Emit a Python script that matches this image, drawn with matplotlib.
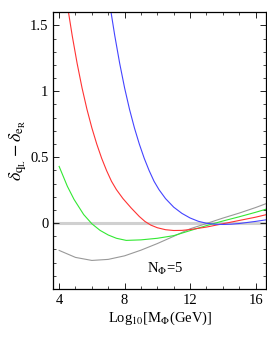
import matplotlib
matplotlib.use('Agg')
import matplotlib.pyplot as plt
from matplotlib.ticker import MultipleLocator

plt.rcParams.update({
    'font.family': 'serif',
    'font.serif': ['Liberation Serif', 'DejaVu Serif'],
    'mathtext.fontset': 'stix',
    'font.size': 9,
})

# curves: log10(M_Phi) vs delta_qL - delta_eR
grey_x = [4.0, 5.0, 6.0, 7.0, 8.0, 9.0, 10.0, 11.0, 12.0, 13.0, 14.0, 15.0, 16.0, 16.65]
grey_y = [-0.207, -0.26, -0.283, -0.275, -0.248, -0.205, -0.155, -0.1, -0.043, -0.003, 0.038, 0.076,
          0.118, 0.148]

green_x = [4.0, 4.5, 4.91, 5.5, 6.0, 6.5, 7.0, 7.5, 8.1, 9.0, 10.0, 11.0, 12.0, 13.0, 14.0, 15.0,
           16.0, 16.65]
green_y = [0.43, 0.28, 0.18, 0.065, -0.005, -0.055, -0.09, -0.115, -0.131, -0.127, -0.115, -0.095,
           -0.057, -0.019, 0.016, 0.048, 0.082, 0.106]

red_x = [4.57, 4.8, 5.1, 5.4, 5.7, 6.0, 6.3, 6.6, 6.9, 7.2, 7.5, 7.9, 8.4, 8.9, 9.24, 9.6, 10.0,
         10.5, 11.0, 11.5, 12.0, 13.0, 14.0, 15.0, 16.0, 16.65]
red_y = [1.6, 1.421, 1.211, 1.025, 0.863, 0.722, 0.599, 0.491, 0.398, 0.317, 0.254, 0.186, 0.115,
         0.05, 0.013, -0.015, -0.035, -0.05, -0.056, -0.055, -0.049, -0.03, -0.005, 0.02, 0.045, 0.064]

blue_x = [7.17, 7.4, 7.7, 8.0, 8.3, 8.6, 8.9, 9.2, 9.5, 9.8, 10.1, 10.5, 11.0, 11.5, 12.0, 12.5,
          13.0, 13.5, 14.0, 14.5, 15.0, 16.0, 16.65]
blue_y = [1.6, 1.421, 1.211, 1.025, 0.863, 0.722, 0.599, 0.491, 0.398, 0.317, 0.254, 0.186, 0.121,
          0.074, 0.039, 0.014, -0.001, -0.008, -0.01, -0.008, -0.003, 0.013, 0.025]

fig = plt.figure(figsize=(2.67, 3.47), dpi=100)
ax = fig.add_axes([0.20, 0.167, 0.797, 0.798])

ax.axhline(0, color='#d0d0d0', lw=2.2, zorder=1)
ax.plot(grey_x, grey_y, color='#999999', lw=0.8)
ax.plot(green_x, green_y, color='#33e833', lw=0.8)
ax.plot(red_x, red_y, color='#ff3333', lw=0.8)
ax.plot(blue_x, blue_y, color='#4444ff', lw=0.8)

ax.set_xlim(3.65, 16.65)
ax.set_ylim(-0.5, 1.6)
ax.xaxis.set_major_locator(MultipleLocator(4))
ax.xaxis.set_minor_locator(MultipleLocator(1))
ax.yaxis.set_minor_locator(MultipleLocator(0.1))
ax.set_yticks([0, 0.5, 1, 1.5])
ax.set_yticklabels(['0', '0.5', '1', '1.5'])
ax.tick_params(which='both', direction='in', top=True, right=True, labelsize=10.5)
ax.tick_params(which='major', length=4, width=0.6)
ax.tick_params(which='minor', length=2.5, width=0.5)
for s in ax.spines.values():
    s.set_linewidth(0.9)

ax.set_xlabel(r'Log$_{10}$[M$_\Phi$(GeV)]', fontsize=10.5, labelpad=2)
ax.set_ylabel(r'$\delta_{\mathrm{q_L}} - \delta_{\mathrm{e_R}}$', fontsize=13, labelpad=1)
ax.text(10.5, -0.35, r'N$_\Phi$=5', ha='center', va='center', fontsize=10.5)

fig.savefig('out.png', dpi=100)
